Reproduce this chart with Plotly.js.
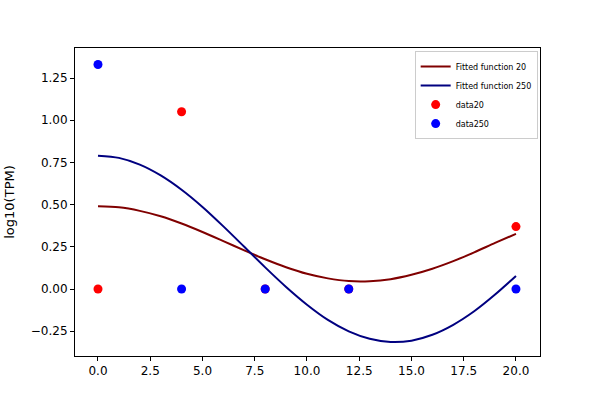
<!DOCTYPE html>
<html>
<head>
<meta charset="utf-8">
<script src="https://cdn.plot.ly/plotly-3.0.1.min.js"></script>
<style>body{margin:0;} #plot{width:600px;height:400px;}</style>
</head>
<body>
<div id="plot"></div>
<script>
// sample times
var fitX = [0,1,2,3,4,5,6,7,8,9,10,11,12,13,14,15,16,17,18,19,20];
// fitted curves
var fit20 = [0.49,0.484,0.463,0.431,0.388,0.338,0.284,0.229,0.176,0.129,0.090,0.063,0.047,0.046,0.058,0.084,0.120,0.165,0.217,0.273,0.327];
var fit250 = [0.79,0.777,0.737,0.673,0.588,0.486,0.371,0.250,0.128,0.012,-0.093,-0.183,-0.251,-0.295,-0.314,-0.306,-0.271,-0.212,-0.132,-0.033,0.077];

// measured points
var dataX = [0,4,8,12,20];
var data20 = [0,1.05,0,0,0.37];
var data250 = [1.33,0,0,0,0];

var xTicks = [0,2.5,5,7.5,10,12.5,15,17.5,20];
var yTicks = [-0.25,0,0.25,0.5,0.75,1,1.25];

var font = {family:'DejaVu Sans', size:12, color:'#000'};

var traces = [
  {x:fitX, y:fit20, name:'Fitted function 20', mode:'lines', line:{color:'#800000', width:2, shape:'spline', smoothing:0.8}},
  {x:fitX, y:fit250, name:'Fitted function 250', mode:'lines', line:{color:'#000080', width:2, shape:'spline', smoothing:0.8}},
  {x:dataX, y:data20, name:'data20', mode:'markers', marker:{color:'red', size:9}},
  {x:dataX, y:data250, name:'data250', mode:'markers', marker:{color:'blue', size:9}}
];

var axis = {
  showgrid:false, zeroline:false, showline:true, mirror:true,
  linecolor:'#000', linewidth:1, ticks:'outside', ticklen:4, tickcolor:'#000',
  tickfont:font
};

var layout = {
  width:600, height:400,
  margin:{l:75, r:60, t:48, b:44},
  paper_bgcolor:'#fff', plot_bgcolor:'#fff',
  font:font,
  xaxis:Object.assign({}, axis, {range:[-1.1,21.15], tickvals:xTicks, ticktext:xTicks.map(function(v){return v.toFixed(1);})}),
  yaxis:Object.assign({}, axis, {range:[-0.397,1.428], tickvals:yTicks, ticktext:yTicks.map(function(v){return (v<0?'\u2212':'')+Math.abs(v).toFixed(2);}),
    title:{text:'log10(TPM)', font:{family:'DejaVu Sans', size:13}, standoff:13}}),
  showlegend:true,
  legend:{x:0.995, y:0.99, xanchor:'right', yanchor:'top', bordercolor:'#ccc', borderwidth:1,
    font:{family:'DejaVu Sans', size:8}, bgcolor:'#fff', tracegroupgap:0, itemwidth:30}
};

Plotly.newPlot('plot', traces, layout, {displayModeBar:false});
</script>
</body>
</html>
